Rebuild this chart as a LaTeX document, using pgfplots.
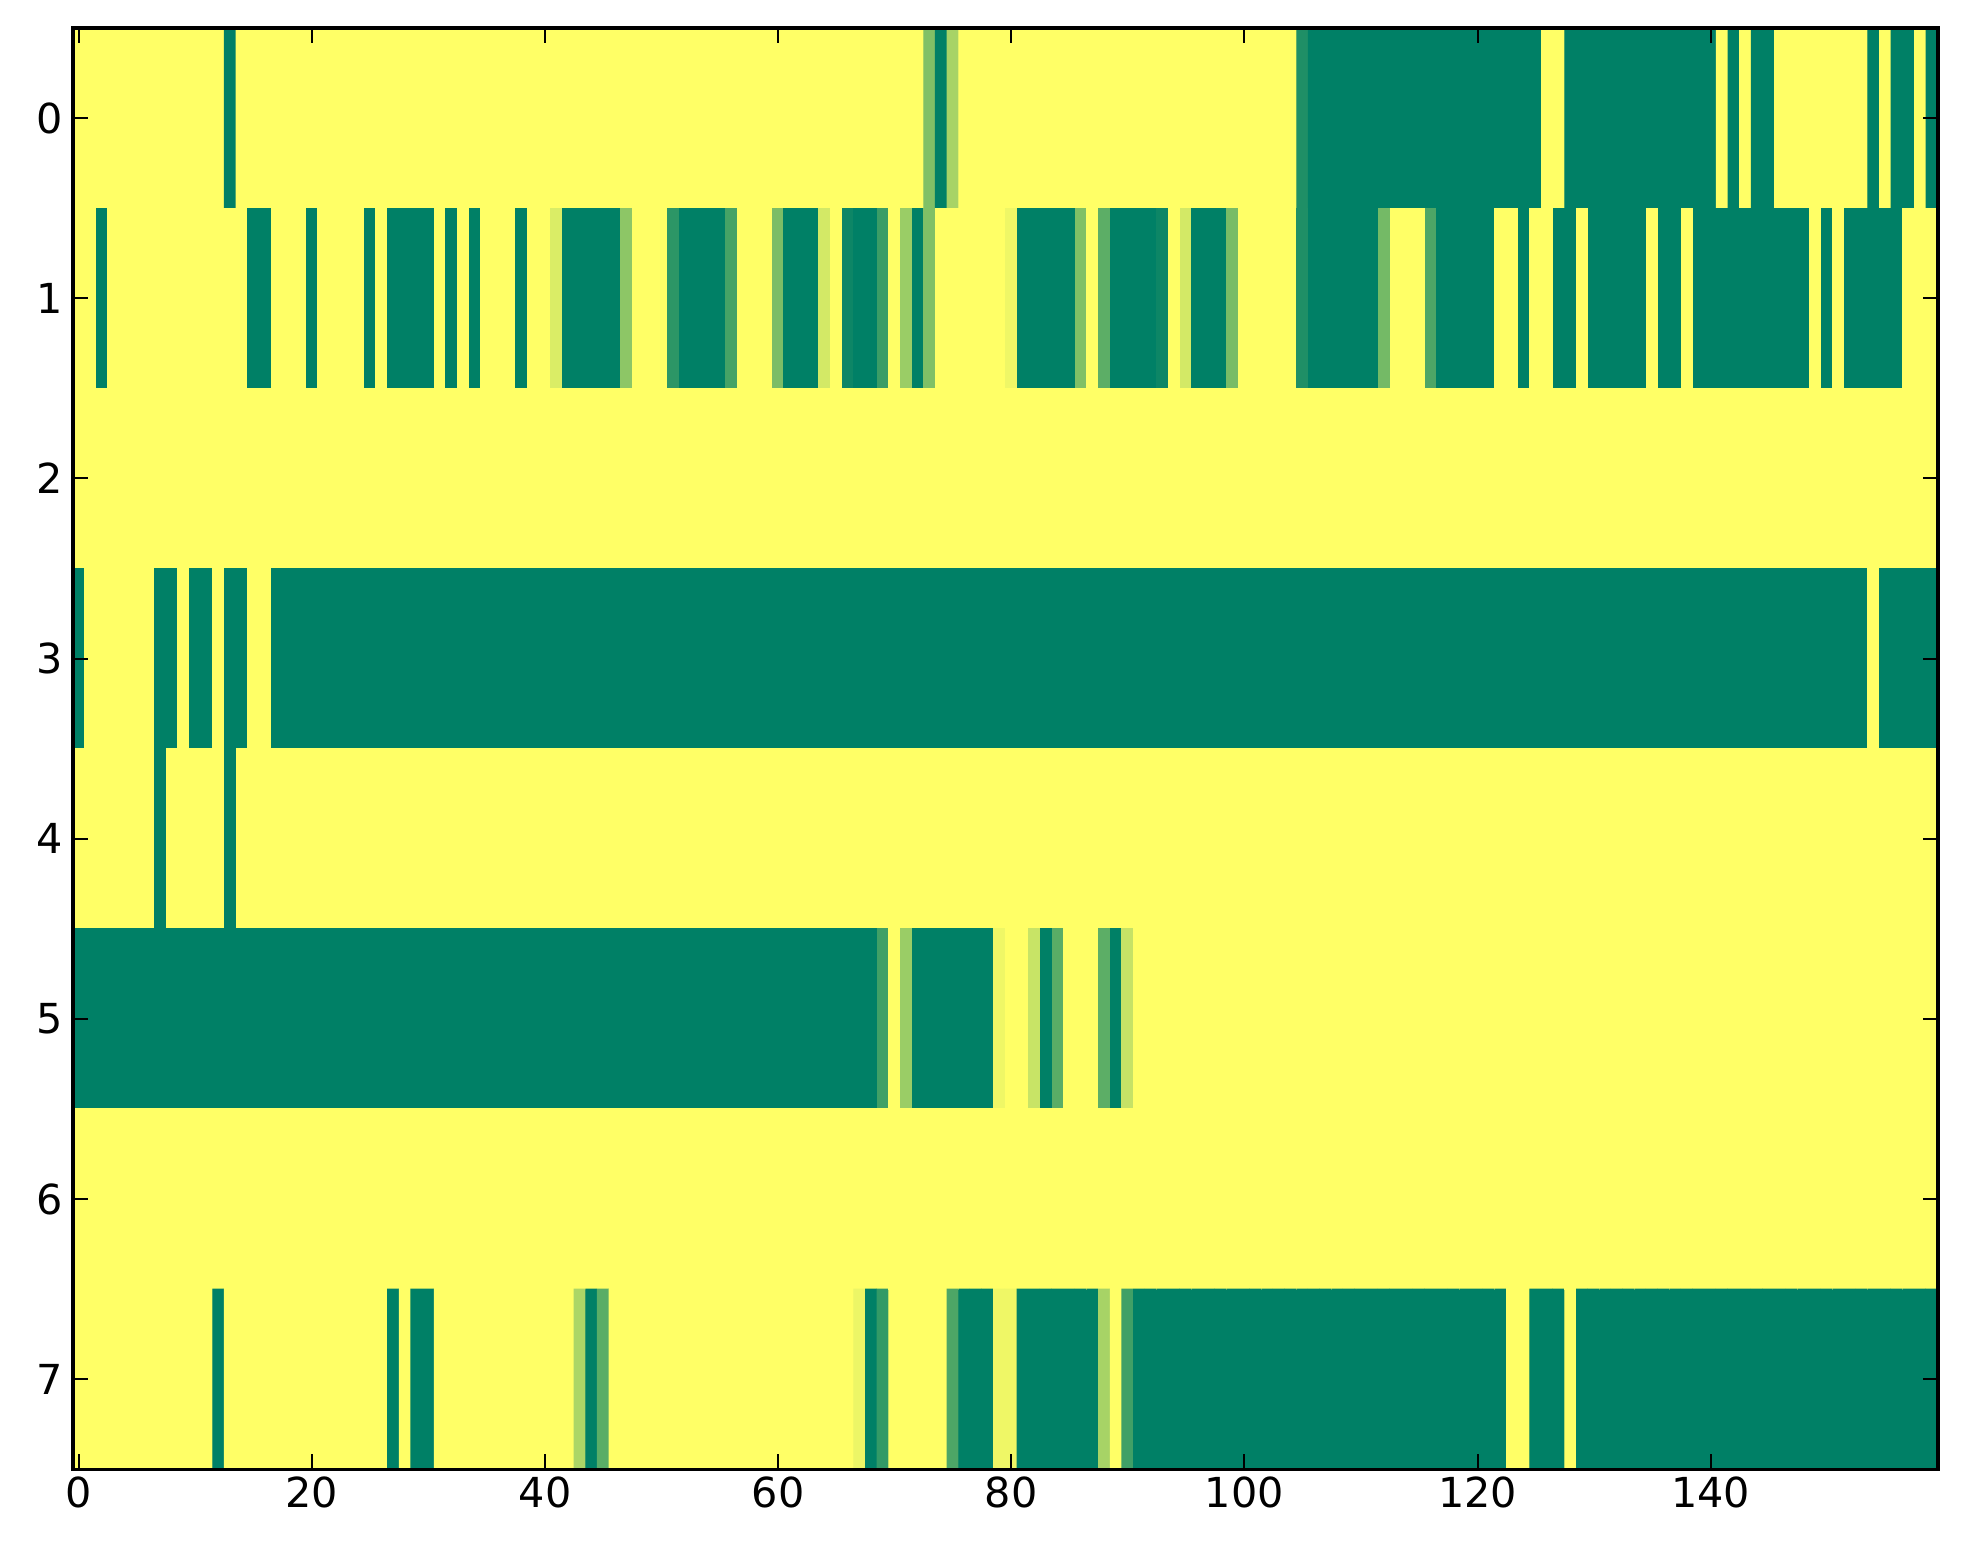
\documentclass[border=0pt]{standalone}
\usepackage{fontspec}
\setmainfont{DejaVu Sans}
\usepackage{pgfplots}
\pgfplotsset{compat=1.18}
\begin{document}
\begin{tikzpicture}
\begin{axis}[
  at={(0,0)}, anchor=south west,
  width=654pt, height=505.5pt, scale only axis,
  xmin=-0.5, xmax=159.5, ymin=-0.5, ymax=7.5, y dir=reverse,
  enlargelimits=false,
  xtick={0,20,...,140}, ytick={0,1,...,7},
  tick align=inside, major tick length=5.3pt,
  axis line style={line width=1.3pt},
  every tick/.style={black, line width=0.7pt},
  tick label style={font=\fontsize{14.5}{17}\selectfont},
  xticklabel style={yshift=1pt},
  /pgf/number format/assume math mode=true,
  colormap={summer}{rgb255=(0,128,102) rgb255=(255,255,102)},
  point meta min=0, point meta max=1,
  axis on top,
]
\addplot[matrix plot*, mesh/cols=160, point meta=explicit]
  table[row sep=\\, meta=z, x expr={mod(\coordindex,160)}, y expr={floor(\coordindex/160)}] {
z\\
1\\1\\1\\1\\1\\ 1\\1\\1\\1\\1\\ 1\\1\\1\\0\\1\\ 1\\1\\1\\1\\1\\
1\\1\\1\\1\\1\\ 1\\1\\1\\1\\1\\ 1\\1\\1\\1\\1\\ 1\\1\\1\\1\\1\\
1\\1\\1\\1\\1\\ 1\\1\\1\\1\\1\\ 1\\1\\1\\1\\1\\ 1\\1\\1\\1\\1\\
1\\1\\1\\1\\1\\ 1\\1\\1\\1\\1\\ 1\\1\\1\\0.5\\0\\ 0.65\\1\\1\\1\\1\\
1\\1\\1\\1\\1\\ 1\\1\\1\\1\\1\\ 1\\1\\1\\1\\1\\ 1\\1\\1\\1\\1\\
1\\1\\1\\1\\1\\ 0.12\\0\\0\\0\\0\\ 0\\0\\0\\0\\0\\ 0\\0\\0\\0\\0\\
0\\0\\0\\0\\0\\ 0\\1\\1\\0\\0\\ 0\\0\\0\\0\\0\\ 0\\0\\0\\0\\0\\
0\\1\\0\\1\\0\\ 0\\1\\1\\1\\1\\ 1\\1\\1\\1\\0\\ 1\\0\\0\\1\\0\\
1\\1\\0\\1\\1\\ 1\\1\\1\\1\\1\\ 1\\1\\1\\1\\1\\ 0\\0\\1\\1\\1\\
0\\1\\1\\1\\1\\ 0\\1\\0\\0\\0\\ 0\\1\\0\\1\\0\\ 1\\1\\1\\0\\1\\
1\\0.85\\0\\0\\0\\ 0\\0\\0.55\\1\\1\\ 1\\0.17\\0\\0\\0\\ 0\\0.27\\1\\1\\1\\
0.48\\0\\0\\0\\0.82\\ 1\\0.05\\0\\0\\0.23\\ 1\\0.6\\0\\0.5\\1\\ 1\\1\\1\\1\\1\\
0.93\\0\\0\\0\\0\\ 0\\0.5\\1\\0.36\\0\\ 0\\0\\0\\0.05\\1\\ 0.82\\0\\0\\0\\0.47\\
1\\1\\1\\1\\1\\ 0.12\\0\\0\\0\\0\\ 0\\0\\0.45\\1\\1\\ 1\\0.3\\0\\0\\0\\
0\\0\\1\\1\\0\\ 1\\1\\0\\0\\1\\ 0\\0\\0\\0\\0\\ 1\\0\\0\\1\\0\\
0\\0\\0\\0\\0\\ 0\\0\\0\\0\\1\\ 0\\1\\0\\0\\0\\ 0\\0\\1\\1\\1\\
1\\1\\1\\1\\1\\ 1\\1\\1\\1\\1\\ 1\\1\\1\\1\\1\\ 1\\1\\1\\1\\1\\
1\\1\\1\\1\\1\\ 1\\1\\1\\1\\1\\ 1\\1\\1\\1\\1\\ 1\\1\\1\\1\\1\\
1\\1\\1\\1\\1\\ 1\\1\\1\\1\\1\\ 1\\1\\1\\1\\1\\ 1\\1\\1\\1\\1\\
1\\1\\1\\1\\1\\ 1\\1\\1\\1\\1\\ 1\\1\\1\\1\\1\\ 1\\1\\1\\1\\1\\
1\\1\\1\\1\\1\\ 1\\1\\1\\1\\1\\ 1\\1\\1\\1\\1\\ 1\\1\\1\\1\\1\\
1\\1\\1\\1\\1\\ 1\\1\\1\\1\\1\\ 1\\1\\1\\1\\1\\ 1\\1\\1\\1\\1\\
1\\1\\1\\1\\1\\ 1\\1\\1\\1\\1\\ 1\\1\\1\\1\\1\\ 1\\1\\1\\1\\1\\
1\\1\\1\\1\\1\\ 1\\1\\1\\1\\1\\ 1\\1\\1\\1\\1\\ 1\\1\\1\\1\\1\\
0\\1\\1\\1\\1\\ 1\\1\\0\\0\\1\\ 0\\0\\1\\0\\0\\ 1\\1\\0\\0\\0\\
0\\0\\0\\0\\0\\ 0\\0\\0\\0\\0\\ 0\\0\\0\\0\\0\\ 0\\0\\0\\0\\0\\
0\\0\\0\\0\\0\\ 0\\0\\0\\0\\0\\ 0\\0\\0\\0\\0\\ 0\\0\\0\\0\\0\\
0\\0\\0\\0\\0\\ 0\\0\\0\\0\\0\\ 0\\0\\0\\0\\0\\ 0\\0\\0\\0\\0\\
0\\0\\0\\0\\0\\ 0\\0\\0\\0\\0\\ 0\\0\\0\\0\\0\\ 0\\0\\0\\0\\0\\
0\\0\\0\\0\\0\\ 0\\0\\0\\0\\0\\ 0\\0\\0\\0\\0\\ 0\\0\\0\\0\\0\\
0\\0\\0\\0\\0\\ 0\\0\\0\\0\\0\\ 0\\0\\0\\0\\0\\ 0\\0\\0\\0\\0\\
0\\0\\0\\0\\0\\ 0\\0\\0\\0\\0\\ 0\\0\\0\\0\\1\\ 0\\0\\0\\0\\0\\
1\\1\\1\\1\\1\\ 1\\1\\0\\1\\1\\ 1\\1\\1\\0\\1\\ 1\\1\\1\\1\\1\\
1\\1\\1\\1\\1\\ 1\\1\\1\\1\\1\\ 1\\1\\1\\1\\1\\ 1\\1\\1\\1\\1\\
1\\1\\1\\1\\1\\ 1\\1\\1\\1\\1\\ 1\\1\\1\\1\\1\\ 1\\1\\1\\1\\1\\
1\\1\\1\\1\\1\\ 1\\1\\1\\1\\1\\ 1\\1\\1\\1\\1\\ 1\\1\\1\\1\\1\\
1\\1\\1\\1\\1\\ 1\\1\\1\\1\\1\\ 1\\1\\1\\1\\1\\ 1\\1\\1\\1\\1\\
1\\1\\1\\1\\1\\ 1\\1\\1\\1\\1\\ 1\\1\\1\\1\\1\\ 1\\1\\1\\1\\1\\
1\\1\\1\\1\\1\\ 1\\1\\1\\1\\1\\ 1\\1\\1\\1\\1\\ 1\\1\\1\\1\\1\\
1\\1\\1\\1\\1\\ 1\\1\\1\\1\\1\\ 1\\1\\1\\1\\1\\ 1\\1\\1\\1\\1\\
0\\0\\0\\0\\0\\ 0\\0\\0\\0\\0\\ 0\\0\\0\\0\\0\\ 0\\0\\0\\0\\0\\
0\\0\\0\\0\\0\\ 0\\0\\0\\0\\0\\ 0\\0\\0\\0\\0\\ 0\\0\\0\\0\\0\\
0\\0\\0\\0\\0\\ 0\\0\\0\\0\\0\\ 0\\0\\0\\0\\0\\ 0\\0\\0\\0\\0\\
0\\0\\0\\0\\0\\ 0\\0\\0\\0\\0.25\\ 1\\0.6\\0\\0\\0\\ 0\\0\\0\\0\\0.93\\
1\\1\\0.78\\0\\0.35\\ 1\\1\\1\\0.36\\0\\ 0.77\\1\\1\\1\\1\\ 1\\1\\1\\1\\1\\
1\\1\\1\\1\\1\\ 1\\1\\1\\1\\1\\ 1\\1\\1\\1\\1\\ 1\\1\\1\\1\\1\\
1\\1\\1\\1\\1\\ 1\\1\\1\\1\\1\\ 1\\1\\1\\1\\1\\ 1\\1\\1\\1\\1\\
1\\1\\1\\1\\1\\ 1\\1\\1\\1\\1\\ 1\\1\\1\\1\\1\\ 1\\1\\1\\1\\1\\
1\\1\\1\\1\\1\\ 1\\1\\1\\1\\1\\ 1\\1\\1\\1\\1\\ 1\\1\\1\\1\\1\\
1\\1\\1\\1\\1\\ 1\\1\\1\\1\\1\\ 1\\1\\1\\1\\1\\ 1\\1\\1\\1\\1\\
1\\1\\1\\1\\1\\ 1\\1\\1\\1\\1\\ 1\\1\\1\\1\\1\\ 1\\1\\1\\1\\1\\
1\\1\\1\\1\\1\\ 1\\1\\1\\1\\1\\ 1\\1\\1\\1\\1\\ 1\\1\\1\\1\\1\\
1\\1\\1\\1\\1\\ 1\\1\\1\\1\\1\\ 1\\1\\1\\1\\1\\ 1\\1\\1\\1\\1\\
1\\1\\1\\1\\1\\ 1\\1\\1\\1\\1\\ 1\\1\\1\\1\\1\\ 1\\1\\1\\1\\1\\
1\\1\\1\\1\\1\\ 1\\1\\1\\1\\1\\ 1\\1\\1\\1\\1\\ 1\\1\\1\\1\\1\\
1\\1\\1\\1\\1\\ 1\\1\\1\\1\\1\\ 1\\1\\1\\1\\1\\ 1\\1\\1\\1\\1\\
1\\1\\1\\1\\1\\ 1\\1\\1\\1\\1\\ 1\\1\\0\\1\\1\\ 1\\1\\1\\1\\1\\
1\\1\\1\\1\\1\\ 1\\1\\0\\1\\0\\ 0\\1\\1\\1\\1\\ 1\\1\\1\\1\\1\\
1\\1\\1\\0.67\\0\\ 0.35\\1\\1\\1\\1\\ 1\\1\\1\\1\\1\\ 1\\1\\1\\1\\1\\
1\\1\\1\\1\\1\\ 1\\1\\0.92\\0\\0.2\\ 1\\1\\1\\1\\1\\ 0.3\\0\\0\\0\\0.93\\
0.93\\0\\0\\0\\0\\ 0\\0\\0\\0.65\\1\\ 0.25\\0\\0\\0\\0\\ 0\\0\\0\\0\\0\\
0\\0\\0\\0\\0\\ 0\\0\\0\\0\\0\\ 0\\0\\0\\0\\0\\ 0\\0\\0\\0\\0\\
0\\0\\0\\1\\1\\ 0\\0\\0\\1\\0\\ 0\\0\\0\\0\\0\\ 0\\0\\0\\0\\0\\
0\\0\\0\\0\\0\\ 0\\0\\0\\0\\0\\ 0\\0\\0\\0\\0\\ 0\\0\\0\\0\\0\\
};
\end{axis}
\path (-25.6pt,-33.5pt) rectangle (662.8pt,515.3pt);
\end{tikzpicture}
\end{document}
